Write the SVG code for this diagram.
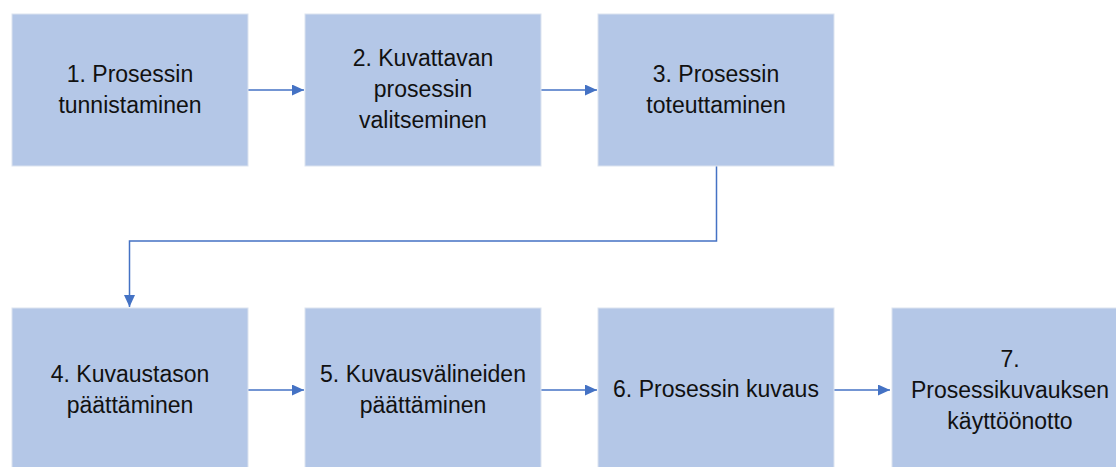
<svg xmlns="http://www.w3.org/2000/svg" width="1116" height="467" viewBox="0 0 1116 467">
  <style>
    .box { fill: #B4C7E7; stroke: #DCE3EF; stroke-width: 1; }
    .label { font-family: "Liberation Sans", Arial, sans-serif; font-size: 23px; fill: #111111; text-anchor: middle; }
    .conn { fill: none; stroke: #4472C4; stroke-width: 1.5; }
  </style>
  <defs>
    <marker id="arrow" markerUnits="userSpaceOnUse" markerWidth="12" markerHeight="11" refX="12" refY="5.5" orient="auto">
      <path d="M0,0 L12,5.5 L0,11 Z" fill="#4472C4"/>
    </marker>
  </defs>
  <rect width="1116" height="467" fill="#ffffff"/>

  <g id="connectors">
    <path class="conn" d="M248,90 H304" marker-end="url(#arrow)"/>
    <path class="conn" d="M541,90 H597" marker-end="url(#arrow)"/>
    <path class="conn" d="M716.5,166 V241 H129.5 V307" marker-end="url(#arrow)"/>
    <path class="conn" d="M248,390 H304" marker-end="url(#arrow)"/>
    <path class="conn" d="M541,390 H597" marker-end="url(#arrow)"/>
    <path class="conn" d="M834,390 H890" marker-end="url(#arrow)"/>
  </g>

  <g id="node1">
    <rect class="box" x="12" y="14" width="236" height="152"/>
    <text class="label" x="130" y="82">1. Prosessin</text>
    <text class="label" x="130" y="113">tunnistaminen</text>
  </g>
  <g id="node2">
    <rect class="box" x="305" y="14" width="236" height="152"/>
    <text class="label" x="423" y="66">2. Kuvattavan</text>
    <text class="label" x="423" y="97">prosessin</text>
    <text class="label" x="423" y="128">valitseminen</text>
  </g>
  <g id="node3">
    <rect class="box" x="598" y="14" width="236" height="152"/>
    <text class="label" x="716" y="82">3. Prosessin</text>
    <text class="label" x="716" y="113">toteuttaminen</text>
  </g>
  <g id="node4">
    <rect class="box" x="12" y="308" width="236" height="166"/>
    <text class="label" x="130" y="382">4. Kuvaustason</text>
    <text class="label" x="130" y="413">päättäminen</text>
  </g>
  <g id="node5">
    <rect class="box" x="305" y="308" width="236" height="166"/>
    <text class="label" x="423" y="382">5. Kuvausvälineiden</text>
    <text class="label" x="423" y="413">päättäminen</text>
  </g>
  <g id="node6">
    <rect class="box" x="598" y="308" width="236" height="166"/>
    <text class="label" x="716" y="397">6. Prosessin kuvaus</text>
  </g>
  <g id="node7">
    <rect class="box" x="892" y="308" width="236" height="166"/>
    <text class="label" x="1010" y="367">7.</text>
    <text class="label" x="1010" y="398">Prosessikuvauksen</text>
    <text class="label" x="1010" y="429">käyttöönotto</text>
  </g>
</svg>
